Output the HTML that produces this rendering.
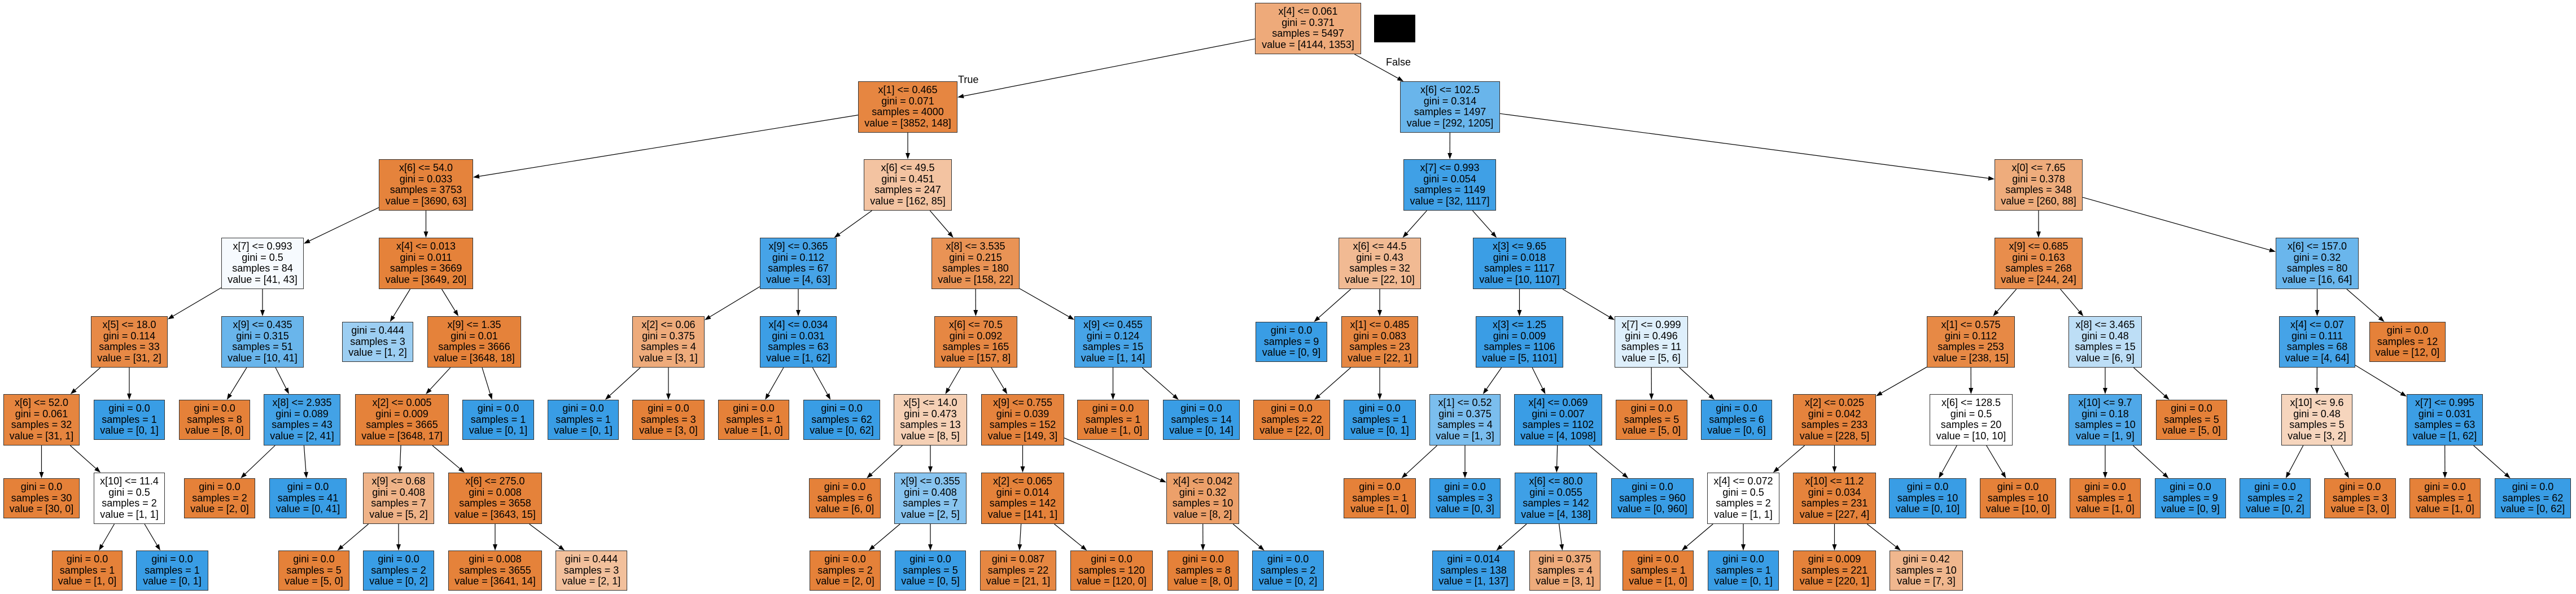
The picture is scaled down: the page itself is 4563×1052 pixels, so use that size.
<!DOCTYPE html>
<html><head><meta charset="utf-8"><style>
html,body{margin:0;padding:0;background:#fff}
body{width:4563px;height:1052px;position:relative;overflow:hidden}
.n{position:absolute;box-sizing:border-box;border:1px solid #333;text-align:center;font:18px/19.5px "Liberation Sans",Arial,sans-serif;padding-top:5px;white-space:nowrap;color:#000}
.O{background:#e58139}.B{background:#399de5}
svg{position:absolute;left:0;top:0}
.lbl{position:absolute;font:18px/20px "Liberation Sans",Arial,sans-serif}
</style></head><body>
<svg id="sv" width="4563" height="1052"></svg>
<div style="position:absolute;left:2434px;top:26px;width:73px;height:49px;background:#000"></div>
<div class="lbl" style="left:1697px;top:131px">True</div>
<div class="lbl" style="left:2455px;top:100px">False</div>

<div class="n" id="n0" style="left:2223px;top:5px;width:188px;height:91px;background:#eeaa7a">x[4] &lt;= 0.061<br>gini = 0.371<br>samples = 5497<br>value = [4144, 1353]</div>
<div class="n" id="n1" style="left:1520px;top:144px;width:176px;height:91px;background:#e68641">x[1] &lt;= 0.465<br>gini = 0.071<br>samples = 4000<br>value = [3852, 148]</div>
<div class="n" id="n2" style="left:2480px;top:144px;width:177px;height:91px;background:#69b5eb">x[6] &lt;= 102.5<br>gini = 0.314<br>samples = 1497<br>value = [292, 1205]</div>
<div class="n" id="n3" style="left:671px;top:282px;width:167px;height:91px;background:#e5833c">x[6] &lt;= 54.0<br>gini = 0.033<br>samples = 3753<br>value = [3690, 63]</div>
<div class="n" id="n4" style="left:1530px;top:282px;width:156px;height:91px;background:#f3c3a1">x[6] &lt;= 49.5<br>gini = 0.451<br>samples = 247<br>value = [162, 85]</div>
<div class="n" id="n5" style="left:2486px;top:282px;width:164px;height:91px;background:#3fa0e6">x[7] &lt;= 0.993<br>gini = 0.054<br>samples = 1149<br>value = [32, 1117]</div>
<div class="n" id="n6" style="left:3533px;top:282px;width:156px;height:91px;background:#eeac7c">x[0] &lt;= 7.65<br>gini = 0.378<br>samples = 348<br>value = [260, 88]</div>

<div class="n" id="n7" style="left:392px;top:421px;width:146px;height:91px;background:#f6fafe">x[7] &lt;= 0.993<br>gini = 0.5<br>samples = 84<br>value = [41, 43]</div>
<div class="n" id="n8" style="left:671px;top:421px;width:167px;height:91px;background:#e5823a">x[4] &lt;= 0.013<br>gini = 0.011<br>samples = 3669<br>value = [3649, 20]</div>
<div class="n" id="n9" style="left:1346px;top:421px;width:136px;height:91px;background:#46a3e7">x[9] &lt;= 0.365<br>gini = 0.112<br>samples = 67<br>value = [4, 63]</div>
<div class="n" id="n10" style="left:1650px;top:421px;width:156px;height:91px;background:#e99355">x[8] &lt;= 3.535<br>gini = 0.215<br>samples = 180<br>value = [158, 22]</div>
<div class="n" id="n11" style="left:2371px;top:421px;width:146px;height:91px;background:#f1ba93">x[6] &lt;= 44.5<br>gini = 0.43<br>samples = 32<br>value = [22, 10]</div>
<div class="n" id="n12" style="left:2609px;top:421px;width:165px;height:91px;background:#3b9ee5">x[3] &lt;= 9.65<br>gini = 0.018<br>samples = 1117<br>value = [10, 1107]</div>
<div class="n" id="n13" style="left:3533px;top:421px;width:156px;height:91px;background:#e88d4c">x[9] &lt;= 0.685<br>gini = 0.163<br>samples = 268<br>value = [244, 24]</div>
<div class="n" id="n14" style="left:4031px;top:421px;width:147px;height:91px;background:#6ab6ec">x[6] &lt;= 157.0<br>gini = 0.32<br>samples = 80<br>value = [16, 64]</div>

<div class="n" id="n15" style="left:161px;top:560px;width:136px;height:91px;background:#e78946">x[5] &lt;= 18.0<br>gini = 0.114<br>samples = 33<br>value = [31, 2]</div>
<div class="n" id="n16" style="left:392px;top:560px;width:146px;height:91px;background:#69b5eb">x[9] &lt;= 0.435<br>gini = 0.315<br>samples = 51<br>value = [10, 41]</div>
<div class="n" id="n17" style="left:606px;top:570px;width:126px;height:71px;background:#9ccef2">gini = 0.444<br>samples = 3<br>value = [1, 2]</div>
<div class="n" id="n18" style="left:757px;top:560px;width:166px;height:91px;background:#e5823a">x[9] &lt;= 1.35<br>gini = 0.01<br>samples = 3666<br>value = [3648, 18]</div>
<div class="n" id="n19" style="left:1120px;top:560px;width:128px;height:91px;background:#eeab7b">x[2] &lt;= 0.06<br>gini = 0.375<br>samples = 4<br>value = [3, 1]</div>
<div class="n" id="n20" style="left:1346px;top:560px;width:136px;height:91px;background:#3c9ee5">x[4] &lt;= 0.034<br>gini = 0.031<br>samples = 63<br>value = [1, 62]</div>
<div class="n" id="n21" style="left:1655px;top:560px;width:147px;height:91px;background:#e68743">x[6] &lt;= 70.5<br>gini = 0.092<br>samples = 165<br>value = [157, 8]</div>
<div class="n" id="n22" style="left:1903px;top:560px;width:137px;height:91px;background:#47a4e7">x[9] &lt;= 0.455<br>gini = 0.124<br>samples = 15<br>value = [1, 14]</div>
<div class="n B" id="n23" style="left:2224px;top:570px;width:127px;height:71px">gini = 0.0<br>samples = 9<br>value = [0, 9]</div>
<div class="n" id="n24" style="left:2376px;top:560px;width:136px;height:91px;background:#e68742">x[1] &lt;= 0.485<br>gini = 0.083<br>samples = 23<br>value = [22, 1]</div>
<div class="n" id="n25" style="left:2614px;top:560px;width:155px;height:91px;background:#3a9de5">x[3] &lt;= 1.25<br>gini = 0.009<br>samples = 1106<br>value = [5, 1101]</div>
<div class="n" id="n26" style="left:2860px;top:560px;width:130px;height:91px;background:#deeffb">x[7] &lt;= 0.999<br>gini = 0.496<br>samples = 11<br>value = [5, 6]</div>
<div class="n" id="n27" style="left:3413px;top:560px;width:156px;height:91px;background:#e78945">x[1] &lt;= 0.575<br>gini = 0.112<br>samples = 253<br>value = [238, 15]</div>
<div class="n" id="n28" style="left:3664px;top:560px;width:130px;height:91px;background:#bddef6">x[8] &lt;= 3.465<br>gini = 0.48<br>samples = 15<br>value = [6, 9]</div>
<div class="n" id="n29" style="left:4037px;top:560px;width:135px;height:91px;background:#45a3e7">x[4] &lt;= 0.07<br>gini = 0.111<br>samples = 68<br>value = [4, 64]</div>
<div class="n O" id="n30" style="left:4197px;top:570px;width:135px;height:71px">gini = 0.0<br>samples = 12<br>value = [12, 0]</div>

<div class="n" id="n31" style="left:6px;top:698px;width:135px;height:91px;background:#e6853f">x[6] &lt;= 52.0<br>gini = 0.061<br>samples = 32<br>value = [31, 1]</div>
<div class="n B" id="n32" style="left:166px;top:708px;width:126px;height:71px">gini = 0.0<br>samples = 1<br>value = [0, 1]</div>
<div class="n O" id="n33" style="left:317px;top:708px;width:126px;height:71px">gini = 0.0<br>samples = 8<br>value = [8, 0]</div>
<div class="n" id="n34" style="left:467px;top:698px;width:136px;height:91px;background:#43a2e6">x[8] &lt;= 2.935<br>gini = 0.089<br>samples = 43<br>value = [2, 41]</div>
<div class="n" id="n35" style="left:629px;top:698px;width:166px;height:91px;background:#e5823a">x[2] &lt;= 0.005<br>gini = 0.009<br>samples = 3665<br>value = [3648, 17]</div>
<div class="n B" id="n36" style="left:819px;top:708px;width:127px;height:71px">gini = 0.0<br>samples = 1<br>value = [0, 1]</div>
<div class="n B" id="n37" style="left:970px;top:708px;width:126px;height:71px">gini = 0.0<br>samples = 1<br>value = [0, 1]</div>
<div class="n O" id="n38" style="left:1120px;top:708px;width:128px;height:71px">gini = 0.0<br>samples = 3<br>value = [3, 0]</div>
<div class="n O" id="n39" style="left:1272px;top:708px;width:126px;height:71px">gini = 0.0<br>samples = 1<br>value = [1, 0]</div>
<div class="n B" id="n40" style="left:1423px;top:708px;width:136px;height:71px">gini = 0.0<br>samples = 62<br>value = [0, 62]</div>
<div class="n" id="n41" style="left:1583px;top:698px;width:130px;height:91px;background:#f5d0b5">x[5] &lt;= 14.0<br>gini = 0.473<br>samples = 13<br>value = [8, 5]</div>
<div class="n" id="n42" style="left:1738px;top:698px;width:147px;height:91px;background:#e5833d">x[9] &lt;= 0.755<br>gini = 0.039<br>samples = 152<br>value = [149, 3]</div>
<div class="n O" id="n43" style="left:1908px;top:708px;width:127px;height:71px">gini = 0.0<br>samples = 1<br>value = [1, 0]</div>
<div class="n B" id="n44" style="left:2060px;top:708px;width:136px;height:71px">gini = 0.0<br>samples = 14<br>value = [0, 14]</div>
<div class="n O" id="n45" style="left:2220px;top:708px;width:136px;height:71px">gini = 0.0<br>samples = 22<br>value = [22, 0]</div>
<div class="n B" id="n46" style="left:2380px;top:708px;width:128px;height:71px">gini = 0.0<br>samples = 1<br>value = [0, 1]</div>
<div class="n" id="n47" style="left:2532px;top:698px;width:126px;height:91px;background:#7bbeee">x[1] &lt;= 0.52<br>gini = 0.375<br>samples = 4<br>value = [1, 3]</div>
<div class="n" id="n48" style="left:2682px;top:698px;width:156px;height:91px;background:#3a9de5">x[4] &lt;= 0.069<br>gini = 0.007<br>samples = 1102<br>value = [4, 1098]</div>
<div class="n O" id="n49" style="left:2862px;top:708px;width:127px;height:71px">gini = 0.0<br>samples = 5<br>value = [5, 0]</div>
<div class="n B" id="n50" style="left:3013px;top:708px;width:126px;height:71px">gini = 0.0<br>samples = 6<br>value = [0, 6]</div>
<div class="n" id="n51" style="left:3176px;top:698px;width:147px;height:91px;background:#e5833d">x[2] &lt;= 0.025<br>gini = 0.042<br>samples = 233<br>value = [228, 5]</div>
<div class="n" id="n52" style="left:3418px;top:698px;width:147px;height:91px;background:#ffffff">x[6] &lt;= 128.5<br>gini = 0.5<br>samples = 20<br>value = [10, 10]</div>
<div class="n" id="n53" style="left:3664px;top:698px;width:130px;height:91px;background:#4fa8e8">x[10] &lt;= 9.7<br>gini = 0.18<br>samples = 10<br>value = [1, 9]</div>
<div class="n O" id="n54" style="left:3819px;top:708px;width:126px;height:71px">gini = 0.0<br>samples = 5<br>value = [5, 0]</div>
<div class="n" id="n55" style="left:4041px;top:698px;width:126px;height:91px;background:#f6d5bd">x[10] &lt;= 9.6<br>gini = 0.48<br>samples = 5<br>value = [3, 2]</div>
<div class="n" id="n56" style="left:4263px;top:698px;width:135px;height:91px;background:#3c9ee5">x[7] &lt;= 0.995<br>gini = 0.031<br>samples = 63<br>value = [1, 62]</div>

<div class="n O" id="n57" style="left:6px;top:847px;width:135px;height:71px">gini = 0.0<br>samples = 30<br>value = [30, 0]</div>
<div class="n" id="n58" style="left:166px;top:837px;width:126px;height:91px;background:#ffffff">x[10] &lt;= 11.4<br>gini = 0.5<br>samples = 2<br>value = [1, 1]</div>
<div class="n O" id="n59" style="left:326px;top:847px;width:126px;height:71px">gini = 0.0<br>samples = 2<br>value = [2, 0]</div>
<div class="n B" id="n60" style="left:477px;top:847px;width:137px;height:71px">gini = 0.0<br>samples = 41<br>value = [0, 41]</div>
<div class="n" id="n61" style="left:643px;top:837px;width:126px;height:91px;background:#efb388">x[9] &lt;= 0.68<br>gini = 0.408<br>samples = 7<br>value = [5, 2]</div>
<div class="n" id="n62" style="left:794px;top:837px;width:166px;height:91px;background:#e5823a">x[6] &lt;= 275.0<br>gini = 0.008<br>samples = 3658<br>value = [3643, 15]</div>
<div class="n O" id="n63" style="left:1433px;top:847px;width:127px;height:71px">gini = 0.0<br>samples = 6<br>value = [6, 0]</div>
<div class="n" id="n64" style="left:1584px;top:837px;width:128px;height:91px;background:#88c4ef">x[9] &lt;= 0.355<br>gini = 0.408<br>samples = 7<br>value = [2, 5]</div>
<div class="n" id="n65" style="left:1738px;top:837px;width:147px;height:91px;background:#e5823a">x[2] &lt;= 0.065<br>gini = 0.014<br>samples = 142<br>value = [141, 1]</div>
<div class="n" id="n66" style="left:2066px;top:837px;width:129px;height:91px;background:#eca06a">x[4] &lt;= 0.042<br>gini = 0.32<br>samples = 10<br>value = [8, 2]</div>
<div class="n O" id="n67" style="left:2380px;top:847px;width:128px;height:71px">gini = 0.0<br>samples = 1<br>value = [1, 0]</div>
<div class="n B" id="n68" style="left:2532px;top:847px;width:126px;height:71px">gini = 0.0<br>samples = 3<br>value = [0, 3]</div>
<div class="n" id="n69" style="left:2683px;top:837px;width:146px;height:91px;background:#3fa0e6">x[6] &lt;= 80.0<br>gini = 0.055<br>samples = 142<br>value = [4, 138]</div>
<div class="n B" id="n70" style="left:2854px;top:847px;width:146px;height:71px">gini = 0.0<br>samples = 960<br>value = [0, 960]</div>
<div class="n" id="n71" style="left:3024px;top:837px;width:128px;height:91px;background:#ffffff">x[4] &lt;= 0.072<br>gini = 0.5<br>samples = 2<br>value = [1, 1]</div>
<div class="n" id="n72" style="left:3176px;top:837px;width:147px;height:91px;background:#e5833c">x[10] &lt;= 11.2<br>gini = 0.034<br>samples = 231<br>value = [227, 4]</div>
<div class="n B" id="n73" style="left:3346px;top:847px;width:137px;height:71px">gini = 0.0<br>samples = 10<br>value = [0, 10]</div>
<div class="n O" id="n74" style="left:3507px;top:847px;width:135px;height:71px">gini = 0.0<br>samples = 10<br>value = [10, 0]</div>
<div class="n O" id="n75" style="left:3666px;top:847px;width:126px;height:71px">gini = 0.0<br>samples = 1<br>value = [1, 0]</div>
<div class="n B" id="n76" style="left:3817px;top:847px;width:126px;height:71px">gini = 0.0<br>samples = 9<br>value = [0, 9]</div>
<div class="n B" id="n77" style="left:3967px;top:847px;width:126px;height:71px">gini = 0.0<br>samples = 2<br>value = [0, 2]</div>
<div class="n O" id="n78" style="left:4117px;top:847px;width:127px;height:71px">gini = 0.0<br>samples = 3<br>value = [3, 0]</div>
<div class="n O" id="n79" style="left:4268px;top:847px;width:126px;height:71px">gini = 0.0<br>samples = 1<br>value = [1, 0]</div>
<div class="n B" id="n80" style="left:4419px;top:847px;width:135px;height:71px">gini = 0.0<br>samples = 62<br>value = [0, 62]</div>

<div class="n O" id="n81" style="left:92px;top:975px;width:125px;height:71px">gini = 0.0<br>samples = 1<br>value = [1, 0]</div>
<div class="n B" id="n82" style="left:241px;top:975px;width:128px;height:71px">gini = 0.0<br>samples = 1<br>value = [0, 1]</div>
<div class="n O" id="n83" style="left:493px;top:975px;width:126px;height:71px">gini = 0.0<br>samples = 5<br>value = [5, 0]</div>
<div class="n B" id="n84" style="left:643px;top:975px;width:126px;height:71px">gini = 0.0<br>samples = 2<br>value = [0, 2]</div>
<div class="n" id="n85" style="left:794px;top:975px;width:166px;height:71px;background:#e5823a">gini = 0.008<br>samples = 3655<br>value = [3641, 14]</div>
<div class="n" id="n86" style="left:984px;top:975px;width:127px;height:71px;background:#f2c09c">gini = 0.444<br>samples = 3<br>value = [2, 1]</div>
<div class="n O" id="n87" style="left:1434px;top:975px;width:126px;height:71px">gini = 0.0<br>samples = 2<br>value = [2, 0]</div>
<div class="n B" id="n88" style="left:1585px;top:975px;width:126px;height:71px">gini = 0.0<br>samples = 5<br>value = [0, 5]</div>
<div class="n" id="n89" style="left:1736px;top:975px;width:135px;height:71px;background:#e68742">gini = 0.087<br>samples = 22<br>value = [21, 1]</div>
<div class="n O" id="n90" style="left:1896px;top:975px;width:146px;height:71px">gini = 0.0<br>samples = 120<br>value = [120, 0]</div>
<div class="n O" id="n91" style="left:2068px;top:975px;width:126px;height:71px">gini = 0.0<br>samples = 8<br>value = [8, 0]</div>
<div class="n B" id="n92" style="left:2218px;top:975px;width:127px;height:71px">gini = 0.0<br>samples = 2<br>value = [0, 2]</div>
<div class="n" id="n93" style="left:2537px;top:975px;width:146px;height:71px;background:#3a9de5">gini = 0.014<br>samples = 138<br>value = [1, 137]</div>
<div class="n" id="n94" style="left:2709px;top:975px;width:126px;height:71px;background:#eeab7b">gini = 0.375<br>samples = 4<br>value = [3, 1]</div>
<div class="n O" id="n95" style="left:2874px;top:975px;width:126px;height:71px">gini = 0.0<br>samples = 1<br>value = [1, 0]</div>
<div class="n B" id="n96" style="left:3025px;top:975px;width:126px;height:71px">gini = 0.0<br>samples = 1<br>value = [0, 1]</div>
<div class="n" id="n97" style="left:3176px;top:975px;width:147px;height:71px;background:#e5823a">gini = 0.009<br>samples = 221<br>value = [220, 1]</div>
<div class="n" id="n98" style="left:3347px;top:975px;width:130px;height:71px;background:#f0b78e">gini = 0.42<br>samples = 10<br>value = [7, 3]</div>

<script>
(function(){
var P=[-1,0,0,1,1,2,2,3,3,4,4,5,5,6,6,7,7,8,8,9,9,10,10,11,11,12,12,13,13,14,14,15,15,16,16,18,18,19,19,20,20,21,21,22,22,24,24,25,25,26,26,27,27,28,28,29,29,31,31,34,34,35,35,41,41,42,42,47,47,48,48,51,51,52,52,53,53,55,55,56,56,58,58,61,61,62,62,64,64,65,65,66,66,69,69,71,71,72,72];
function g(i){var e=document.getElementById('n'+i).style;var x=parseFloat(e.left),y=parseFloat(e.top),w=parseFloat(e.width),h=parseFloat(e.height);return {cx:x+w/2,cy:y+h/2,hw:w/2,hh:h/2};}
function t(r,dx,dy){var a=Math.abs(dx)>1e-9?r.hw/Math.abs(dx):1e9,b=Math.abs(dy)>1e-9?r.hh/Math.abs(dy):1e9;return Math.min(a,b);}
var s='';
for(var i=1;i<P.length;i++){
 var a=g(P[i]),b=g(i);var dx=b.cx-a.cx,dy=b.cy-a.cy;
 var ta=t(a,dx,dy),tb=t(b,dx,dy);
 var x1=a.cx+dx*ta,y1=a.cy+dy*ta,x2=b.cx-dx*tb,y2=b.cy-dy*tb;
 var L=Math.sqrt((x2-x1)*(x2-x1)+(y2-y1)*(y2-y1));var ux=(x2-x1)/L,uy=(y2-y1)/L;
 var bx=x2-ux*11,by=y2-uy*11;var px=-uy*4,py=ux*4;
 s+='<line x1="'+x1+'" y1="'+y1+'" x2="'+bx+'" y2="'+by+'" stroke="#000" stroke-width="1.2"/>';
 s+='<polygon points="'+x2+','+y2+' '+(bx+px)+','+(by+py)+' '+(bx-px)+','+(by-py)+'" fill="#000"/>';
}
document.getElementById('sv').innerHTML=s;
})();
</script>
</body></html>
